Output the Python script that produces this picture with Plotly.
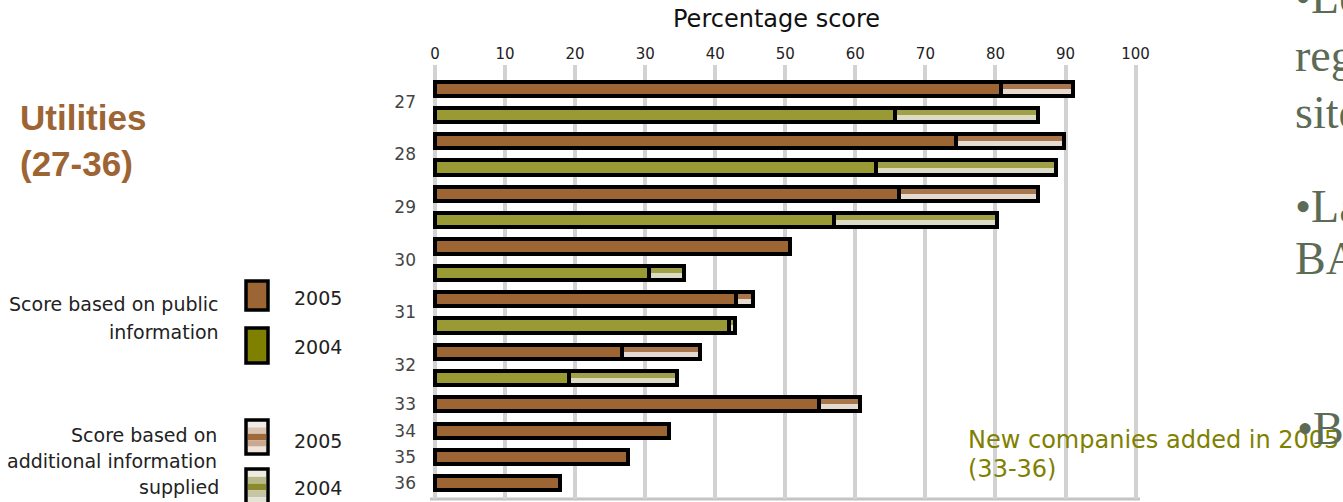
import plotly.graph_objects as go

# ---------------- data ----------------
companies = ["27", "28", "29", "30", "31", "32", "33", "34", "35", "36"]
public_2005 = [80.8, 74.4, 66.2, 50.7, 43.0, 26.7, 54.8, 33.4, 27.6, 17.8]
total_2005 = [91.0, 89.8, 86.0, 50.7, 45.4, 37.8, 60.6, 33.4, 27.6, 17.8]
public_2004 = [65.7, 63.0, 57.0, 30.6, 41.9, 19.1, None, None, None, None]
total_2004 = [86.0, 88.7, 80.2, 35.6, 42.8, 34.5, None, None, None, None]
x_ticks = [0, 10, 20, 30, 40, 50, 60, 70, 80, 90, 100]

# ---------------- styles ----------------
BROWN = "#9d6434"
BROWN_LIGHT = "#a8764a"
BROWN_BG = "#e6dbd0"
GREEN = "#9a9a34"
GREEN_LIGHT = "#a0a046"
GREEN_BG = "#dcdcc6"
OLIVE = "#808000"
SLIDE = "#5b6b55"
FONT = "DejaVu Sans"

# slot layout (one slot per bar)
y2005, y2004, tickpos = [], [], []
slot = 0
for i, c in enumerate(companies):
    if public_2004[i] is not None:
        y2005.append(slot)
        y2004.append(slot + 1)
        tickpos.append(slot + 0.5)
        slot += 2
    else:
        y2005.append(slot)
        y2004.append(None)
        tickpos.append(slot)
        slot += 1

extra_2005 = [(t - p) if (t - p) > 0.05 else None for t, p in zip(total_2005, public_2005)]
y04 = [y for y in y2004 if y is not None]
p04 = [p for p in public_2004 if p is not None]
e04 = [(t - p) if (t - p) > 0.05 else None
       for t, p in zip(total_2004, public_2004) if p is not None]

BW = 0.54          # bar thickness (slot units)
LW = 4             # outline width (px)
PX_PER_SLOT = 26.37
half_line = (LW / 2) / PX_PER_SLOT
inner = BW - 2 * half_line
NOLINE = dict(width=0)
OUTLINE = dict(color="black", width=LW)

fig = go.Figure()


def add_year(ys, pub, extra, solid, light, bg):
    # solid public part
    fig.add_trace(go.Bar(y=ys, x=pub, orientation="h", width=BW,
                         marker=dict(color=solid, line=OUTLINE), hoverinfo="x"))
    # additional part: light background
    fig.add_trace(go.Bar(y=ys, x=extra, base=pub, orientation="h", width=BW,
                         marker=dict(color=bg, line=NOLINE), hoverinfo="skip"))
    # additional part: coloured upper stripe
    fig.add_trace(go.Bar(y=ys, x=extra, base=pub, orientation="h", width=inner / 2,
                         offset=-BW / 2 + half_line,
                         marker=dict(color=light, line=NOLINE), hoverinfo="skip"))
    # additional part: outline
    fig.add_trace(go.Bar(y=ys, x=extra, base=pub, orientation="h", width=BW,
                         marker=dict(color="rgba(0,0,0,0)", line=OUTLINE), hoverinfo="x"))


add_year(y2005, public_2005, extra_2005, BROWN, BROWN_LIGHT, BROWN_BG)
add_year(y04, p04, e04, GREEN, GREEN_LIGHT, GREEN_BG)

# ---------------- layout geometry ----------------
W_FIG, H_FIG = 1343, 502
L, R, T, B = 431, 1137, 65, 499
PW, PH = R - L, B - T


def px(x):
    return (x - L) / PW


def py(y):
    return 1 - (y - T) / PH


annotations = []
shapes = []


def text(s, x, y, size, color="#222222", xanchor="left", family=FONT, yanchor="middle"):
    annotations.append(dict(text=s, x=px(x), y=py(y), xref="paper", yref="paper",
                            xanchor=xanchor, yanchor=yanchor, showarrow=False,
                            font=dict(family=family, size=size, color=color)))


def rect(x0, y0, x1, y1, fill, line_color=None, lw=0):
    shapes.append(dict(type="rect", xref="paper", yref="paper",
                       x0=px(x0), x1=px(x1), y0=py(y0), y1=py(y1),
                       fillcolor=fill,
                       line=dict(color=line_color or fill, width=lw), layer="above"))


# axis title
text("Percentage score", 776, 19, 24, color="#111111", xanchor="center")

# left title
text("<b>Utilities</b>", 18, 118, 35, color=BROWN, family="Liberation Sans")
text("<b>(27-36)</b>", 18, 163, 35, color=BROWN, family="Liberation Sans")

# legend texts
text("Score based on public", 221, 304, 19, xanchor="right")
text("information", 221, 332, 19, xanchor="right")
text("2005", 292, 298, 19)
text("2004", 292, 347, 19)
text("Score based on", 219, 435, 19, xanchor="right")
text("additional information", 219, 461, 19, xanchor="right")
text("supplied", 221, 487, 19, xanchor="right")
text("2005", 292, 441, 19)
text("2004", 292, 488, 19)

# legend swatches
rect(246, 281, 268, 310, BROWN, "black", 3.5)
rect(246, 328, 268, 363, OLIVE, "black", 3.5)
stripes05 = ["#f2ece8", "#d9c3b2", "#a0693a", "#c9a98f", "#eee4dc"]
stripes04 = ["#ecece2", "#b8b888", "#8a8a2e", "#c6c6a4", "#e4e4d6"]
y0, y1 = 421, 453
step = (y1 - y0) / len(stripes05)
for k, c in enumerate(stripes05):
    rect(248, y0 + k * step, 266, y0 + (k + 1) * step, c)
rect(246, 420, 268, 454, "rgba(0,0,0,0)", "black", 3.5)
y0, y1 = 470, 504
step = (y1 - y0) / len(stripes04)
for k, c in enumerate(stripes04):
    rect(248, y0 + k * step, 266, y0 + (k + 1) * step, c)
rect(246, 469, 268, 506, "rgba(0,0,0,0)", "black", 3.5)

# bottom frame line
shapes.append(dict(type="line", xref="paper", yref="paper", x0=px(430), x1=px(1140),
                   y0=py(499), y1=py(499), line=dict(color="#c4c4c4", width=3), layer="below"))

# new companies note
text("New companies added in 2005", 966, 440, 24, color=OLIVE)
text("(33-36)", 966, 469, 24, color=OLIVE)

# slide text on the right (clipped by the page edge)
SER = "Liberation Serif"
text("\u2022Lo", 1293, -2, 46, color=SLIDE, family=SER)
text("regi", 1293, 56, 46, color=SLIDE, family=SER)
text("site", 1293, 113, 46, color=SLIDE, family=SER)
text("\u2022La", 1293, 206, 46, color=SLIDE, family=SER)
text("BA", 1293, 258, 46, color=SLIDE, family=SER)
text("\u2022B", 1295, 428, 46, color=SLIDE, family=SER)

fig.update_layout(
    width=W_FIG, height=H_FIG,
    margin=dict(l=L, r=W_FIG - R, t=T, b=H_FIG - B, pad=0),
    paper_bgcolor="white", plot_bgcolor="white",
    barmode="overlay", bargap=0, showlegend=False,
    annotations=annotations, shapes=shapes,
    xaxis=dict(side="top", range=[-0.57, 100.2], tickvals=x_ticks,
               ticktext=[str(v) for v in x_ticks], showgrid=True,
               gridcolor="#d2d2d2", gridwidth=4, zeroline=False, showline=False,
               ticks="", ticklabelstandoff=2,
               tickfont=dict(family=FONT, size=15, color="#222222"), fixedrange=True),
    yaxis=dict(range=[15.6, -0.9], tickvals=tickpos, ticktext=companies,
               showgrid=False, zeroline=False, showline=False, ticks="",
               ticklabelstandoff=14,
               tickfont=dict(family=FONT, size=17, color="#444444"), fixedrange=True),
)

fig.write_html("out.html")
